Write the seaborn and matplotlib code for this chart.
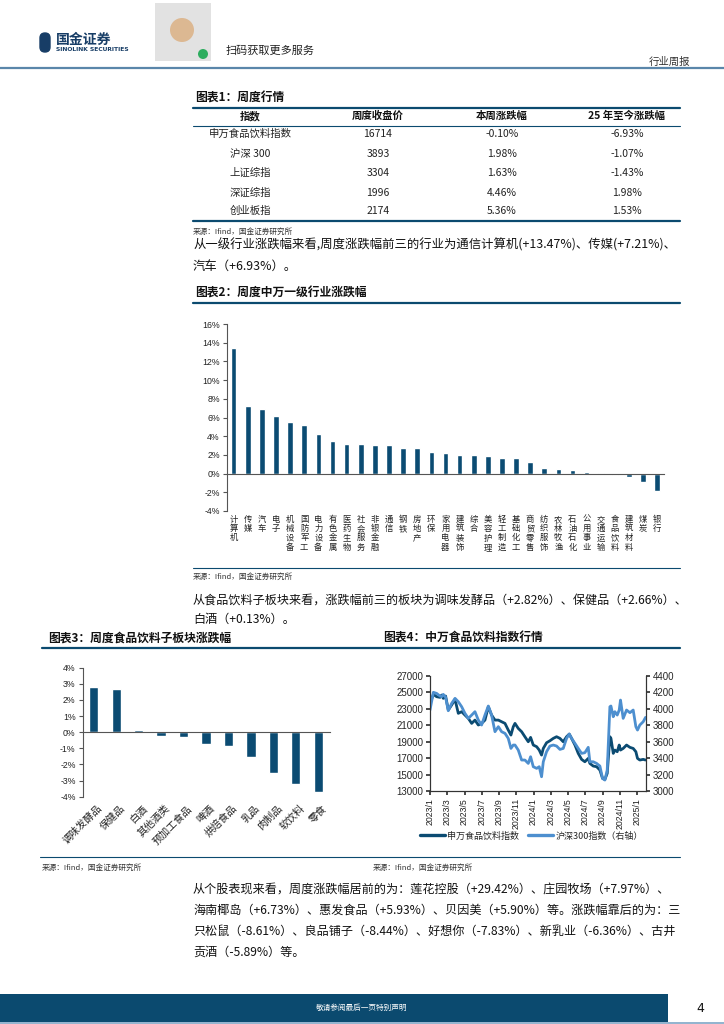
import matplotlib
matplotlib.use('Agg')
import matplotlib.pyplot as plt
import matplotlib.transforms as mtransforms
from matplotlib.patches import Rectangle, FancyBboxPatch, Circle
import seaborn as sns
import pandas as pd
import numpy as np

sns.set_theme(style='white')
plt.rcParams['font.family'] = ['Noto Sans CJK SC', 'DejaVu Sans']
plt.rcParams['axes.unicode_minus'] = False

W, H = 724, 1024
DARK = '#0b4b72'
LIGHT = '#4d8fcf'
NAVY = '#0b4a6f'

# ---- table 1 data
idx_names = ['申万食品饮料指数', '沪深 300', '上证综指', '深证综指', '创业板指']
close_px = [16714, 3893, 3304, 1996, 2174]
wk_chg = [-0.10, 1.98, 1.63, 4.46, 5.36]
ytd_chg = [-6.93, -1.07, -1.43, 1.98, 1.53]

# ---- chart 2: SW level-1 industries weekly change (%)
ind_names = ['计算机', '传媒', '汽车', '电子', '机械设备', '国防军工', '电力设备', '有色金属',
             '医药生物', '社会服务', '非银金融', '通信', '钢铁', '房地产', '环保', '家用电器',
             '建筑装饰', '综合', '美容护理', '轻工制造', '基础化工', '商贸零售', '纺织服饰',
             '农林牧渔', '石油石化', '公用事业', '交通运输', '食品饮料', '建筑材料', '煤炭', '银行']
ind_chg = [13.47, 7.21, 6.93, 6.2, 5.5, 5.2, 4.2, 3.5, 3.2, 3.2, 3.1, 3.1, 2.7, 2.7, 2.3, 2.2,
           2.0, 2.0, 1.9, 1.7, 1.7, 1.27, 0.6, 0.47, 0.4, 0.2, 0.1, -0.1, -0.35, -0.9, -1.9]

# ---- chart 3: food & beverage sub-sectors weekly change (%)
sub_names = ['调味发酵品', '保健品', '白酒', '其他酒类', '预加工食品', '啤酒', '烘焙食品',
             '乳品', '肉制品', '软饮料', '零食']
sub_chg = [2.82, 2.66, 0.13, -0.25, -0.3, -0.74, -0.88, -1.56, -2.5, -3.24, -3.7]

# ---- chart 4: index levels (x in months since 2023/1)
week_pos = [0, 0.39, 0.77, 1.16, 1.35, 1.54, 1.81, 2.12, 2.51, 2.90, 3.28, 3.67, 4.05, 4.44,
            4.83, 5.21, 5.60, 5.98, 6.37, 6.76, 7.14, 7.53, 7.92, 8.30, 8.69, 9.07, 9.38, 9.65,
            9.85, 10.23, 10.62, 11.0, 11.39, 11.66, 11.97, 12.36, 12.66, 12.93, 13.13, 13.51,
            13.90, 14.29, 14.67, 15.06, 15.44, 15.83, 16.14, 16.41, 16.80, 17.18, 17.57, 17.95,
            18.34, 18.53, 18.92, 19.31, 19.69, 20.0, 20.27, 20.54, 20.85, 20.97, 21.24, 21.43,
            21.70, 21.93, 22.08, 22.39, 22.78, 23.17, 23.55, 23.86, 24.05, 24.32, 24.71, 24.98]
food_idx = [23640, 24730, 24450, 24370, 24650, 24250, 24530, 22830, 23440, 24130, 22430, 22630,
            22220, 21820, 21210, 21610, 21010, 21210, 21610, 23230, 22220, 21610, 21610, 21410,
            21210, 20400, 19790, 20800, 21210, 20600, 20200, 19590, 18980, 19510, 18580, 18380,
            17970, 17360, 18170, 18860, 19100, 19390, 19590, 19390, 18980, 19590, 19910, 19390,
            18580, 17570, 16840, 16550, 16960, 16350, 16030, 15950, 15540, 14530, 14410, 15140,
            19590, 19400, 17570, 17970, 17770, 18580, 17970, 18170, 18580, 18300, 18170, 17770,
            16960, 16760, 16840, 16760]
hs300_idx = [3983, 4198, 4185, 4153, 4145, 4173, 4137, 3975, 4064, 4125, 4084, 4023, 3943, 3882,
             3922, 3963, 3862, 3801, 3922, 4032, 3922, 3720, 3781, 3720, 3700, 3639, 3517, 3558,
             3558, 3497, 3376, 3376, 3335, 3416, 3295, 3275, 3295, 3173, 3355, 3477, 3546, 3558,
             3546, 3505, 3517, 3639, 3692, 3639, 3578, 3517, 3457, 3465, 3530, 3355, 3355, 3335,
             3303, 3153, 3133, 3254, 4023, 4032, 3902, 3963, 3922, 3983, 4104, 3882, 3983, 3951,
             3983, 3781, 3740, 3801, 3841, 3894]
month_lbl = ['2023/1', '2023/3', '2023/5', '2023/7', '2023/9', '2023/11', '2024/1', '2024/3',
             '2024/5', '2024/7', '2024/9', '2024/11', '2025/1']

src_txt = '来源：Ifind，国金证券研究所'
para1 = ['从一级行业涨跌幅来看,周度涨跌幅前三的行业为通信计算机(+13.47%)、传媒(+7.21%)、',
         '汽车（+6.93%）。']
para2 = ['从食品饮料子板块来看，涨跌幅前三的板块为调味发酵品（+2.82%）、保健品（+2.66%）、',
         '白酒（+0.13%）。']
para3 = ['从个股表现来看，周度涨跌幅居前的为：莲花控股（+29.42%）、庄园牧场（+7.97%）、',
         '海南椰岛（+6.73%）、惠发食品（+5.93%）、贝因美（+5.90%）等。涨跌幅靠后的为：三',
         '只松鼠（-8.61%）、良品铺子（-8.44%）、好想你（-7.83%）、新乳业（-6.36%）、古井',
         '贡酒（-5.89%）等。']


def box(x0, y0, x1, y1):
    return [x0 / W, 1 - y1 / H, (x1 - x0) / W, (y1 - y0) / H]


fig = plt.figure(figsize=(W / 100, H / 100), dpi=100)
pg = fig.add_axes([0, 0, 1, 1])
pg.set_xlim(0, W)
pg.set_ylim(H, 0)
pg.axis('off')

# header
pg.add_patch(FancyBboxPatch((40, 33), 10, 19, boxstyle='round,pad=0,rounding_size=5', color='#173d66'))
pg.text(56, 40, '国金证券', fontsize=10, fontweight='bold', color='#173d66', va='center')
pg.text(56, 49.5, 'SINOLINK SECURITIES', fontsize=4.3, fontweight='bold', color='#173d66', va='center',
        family='DejaVu Sans')
pg.add_patch(Rectangle((155, 3), 56, 58, color='#e2e2e2', lw=0))
pg.add_patch(Circle((182, 30), 12, color='#dcb892', lw=0))
pg.add_patch(Circle((203, 54), 5, color='#2ead5f', lw=0))
pg.text(226, 51, '扫码获取更多服务', fontsize=8, va='center', color='#222')
pg.text(690, 62, '行业周报', fontsize=7.5, va='center', ha='right', color='#333')
pg.plot([0, W], [68, 68], color='#5a86aa', lw=1.6)

# table 1
pg.text(195, 98, '图表1：周度行情', fontsize=8.5, fontweight='bold', va='center', color='#111')
pg.plot([193, 680], [108, 108], color=NAVY, lw=1.6)
pg.plot([193, 680], [126, 126], color=NAVY, lw=0.8)
pg.plot([193, 680], [221, 221], color=NAVY, lw=1.6)
col_x = [250, 378, 502, 627]
for cx, hd in zip(col_x, ['指数', '周度收盘价', '本周涨跌幅', '25 年至今涨跌幅']):
    pg.text(cx, 116, hd, fontsize=7.5, fontweight='bold', ha='center', va='center', color='#111')
row_y = [134, 154, 173, 193, 211]
for ry, nm, cp, wc, yc in zip(row_y, idx_names, close_px, wk_chg, ytd_chg):
    pg.text(col_x[0], ry, nm, fontsize=7.5, ha='center', va='center', color='#222')
    pg.text(col_x[1], ry, f'{cp}', fontsize=7.5, ha='center', va='center', color='#222')
    pg.text(col_x[2], ry, f'{wc:.2f}%', fontsize=7.5, ha='center', va='center', color='#222')
    pg.text(col_x[3], ry, f'{yc:.2f}%', fontsize=7.5, ha='center', va='center', color='#222')
pg.text(193, 232, src_txt, fontsize=5.5, va='center', color='#333')

for i, ln in enumerate(para1):
    pg.text(193, 245 + i * 21, ln, fontsize=8.9, va='center', color='#111')

# chart 2
pg.text(195, 293, '图表2：周度中万一级行业涨跌幅', fontsize=8.5, fontweight='bold', va='center', color='#111')
pg.plot([193, 680], [303, 303], color=NAVY, lw=1.6)
pg.plot([193, 680], [568, 568], color=NAVY, lw=0.8)
pg.text(193, 577, src_txt, fontsize=5.5, va='center', color='#333')

for i, ln in enumerate(para2):
    pg.text(193, 600 + i * 19, ln, fontsize=8.7, va='center', color='#111')

# chart 3/4 titles
pg.text(48, 638, '图表3：周度食品饮料子板块涨跌幅', fontsize=8.5, fontweight='bold', va='center', color='#111')
pg.text(383, 638, '图表4：中万食品饮料指数行情', fontsize=8.5, fontweight='bold', va='center', color='#111')
pg.plot([42, 680], [648, 648], color=NAVY, lw=1.6)
pg.plot([40, 680], [857, 857], color=NAVY, lw=0.8)
pg.text(42, 868, src_txt, fontsize=5.5, va='center', color='#333')
pg.text(373, 868, src_txt, fontsize=5.5, va='center', color='#333')

for i, ln in enumerate(para3):
    pg.text(193, 889 + i * 21, ln, fontsize=8.7, va='center', color='#111')

# footer
pg.add_patch(Rectangle((0, 994), 668, 28, color=NAVY, lw=0))
pg.plot([0, W], [1023, 1023], color='#7fa6c6', lw=1.2)
pg.text(362, 1008, '敬请参阅最后一页特别声明', fontsize=5.5, ha='center', va='center', color='white')
pg.text(700, 1008, '4', fontsize=9, ha='center', va='center', color='#111', family='DejaVu Sans')


def style_bar_axes(ax, n, ticks, fs):
    ax.set_xlim(-0.5, n - 0.5)
    ax.set_yticks(ticks)
    ax.set_yticklabels([f'{t}%' for t in ticks], fontsize=fs, color='#222', family='Liberation Sans')
    ax.set_xticks(np.arange(n + 1) - 0.5)
    ax.set_xticklabels([])
    ax.spines['bottom'].set_position(('data', 0))
    ax.spines['top'].set_visible(False)
    ax.spines['right'].set_visible(False)
    for s in ['left', 'bottom']:
        ax.spines[s].set_color('#555')
        ax.spines[s].set_linewidth(0.8)
    ax.tick_params(axis='x', direction='inout', length=4, width=0.8, color='#555', pad=0)
    ax.tick_params(axis='y', direction='out', length=3, width=0.8, color='#555', left=True, pad=2)
    ax.set_xlabel('')
    ax.set_ylabel('')
    ax.patch.set_alpha(0)


ax2 = fig.add_axes(box(226.6, 324, 664.3, 511))
ind_df = pd.DataFrame({'ind': ind_names, 'chg': ind_chg})
sns.barplot(data=ind_df, x='ind', y='chg', color=DARK, saturation=1, width=0.4, ax=ax2)
ax2.set_ylim(-4, 16)
style_bar_axes(ax2, len(ind_names), list(range(-4, 17, 2)), 6.3)
tr2 = mtransforms.blended_transform_factory(ax2.transData, ax2.transAxes)
for i, nm in enumerate(ind_names):
    ax2.text(i, -0.02, '\n'.join(nm), transform=tr2, ha='center', va='top', fontsize=6,
             linespacing=1.05, color='#222')

ax3 = fig.add_axes(box(82.5, 667.7, 329.5, 796.7))
sub_df = pd.DataFrame({'sub': sub_names, 'chg': sub_chg})
sns.barplot(data=sub_df, x='sub', y='chg', color=DARK, saturation=1, width=0.41, ax=ax3)
ax3.set_ylim(-4, 4)
style_bar_axes(ax3, len(sub_names), list(range(-4, 5, 1)), 6.3)
tr3 = mtransforms.blended_transform_factory(ax3.transData, ax3.transAxes)
for i, nm in enumerate(sub_names):
    ax3.text(i + 0.15, -0.05, nm, transform=tr3, ha='right', va='top', rotation=45,
             rotation_mode='anchor', fontsize=7.3, color='#222')

# chart 4
ax4 = fig.add_axes(box(430, 675.7, 645.7, 791))
sns.lineplot(x=week_pos, y=food_idx, ax=ax4, color=DARK, lw=2)
ax4b = ax4.twinx()
sns.lineplot(x=week_pos, y=hs300_idx, ax=ax4b, color=LIGHT, lw=2)
ax4.set_xlim(0, 25)
ax4.set_ylim(13000, 27000)
ax4b.set_ylim(3000, 4400)
ax4.set_yticks(range(13000, 27001, 2000))
ax4b.set_yticks(range(3000, 4401, 200))
ax4.set_xticks(range(0, 25, 2))
ax4.set_xticklabels(month_lbl, rotation=90, fontsize=6.3, color='#222', family='Liberation Sans')
for a in (ax4, ax4b):
    for t in a.get_yticklabels():
        t.set_family('Liberation Sans')
ax4.tick_params(axis='y', labelsize=7, direction='out', length=3, left=True, color='#333', pad=2)
ax4b.tick_params(axis='y', labelsize=7, direction='out', length=3, right=True, color='#333', pad=2)
ax4.tick_params(axis='x', direction='out', length=3, bottom=True, color='#333', pad=2)
for a in (ax4, ax4b):
    a.spines['top'].set_visible(False)
    for s in ['left', 'right', 'bottom']:
        a.spines[s].set_color('#333')
        a.spines[s].set_linewidth(0.8)
    a.set_ylabel('')
    a.patch.set_alpha(0)
l1 = plt.Line2D([], [], color=DARK, lw=2.4)
l2 = plt.Line2D([], [], color=LIGHT, lw=2.4)
fig.legend([l1, l2], ['申万食品饮料指数', '沪深300指数（右轴）'], loc='center left',
           bbox_to_anchor=(412 / W, 1 - 836 / H), ncol=2, frameon=False, fontsize=6.5,
           handlelength=2.7, handletextpad=0.3, columnspacing=1.0)

fig.savefig('out.png', dpi=100)
